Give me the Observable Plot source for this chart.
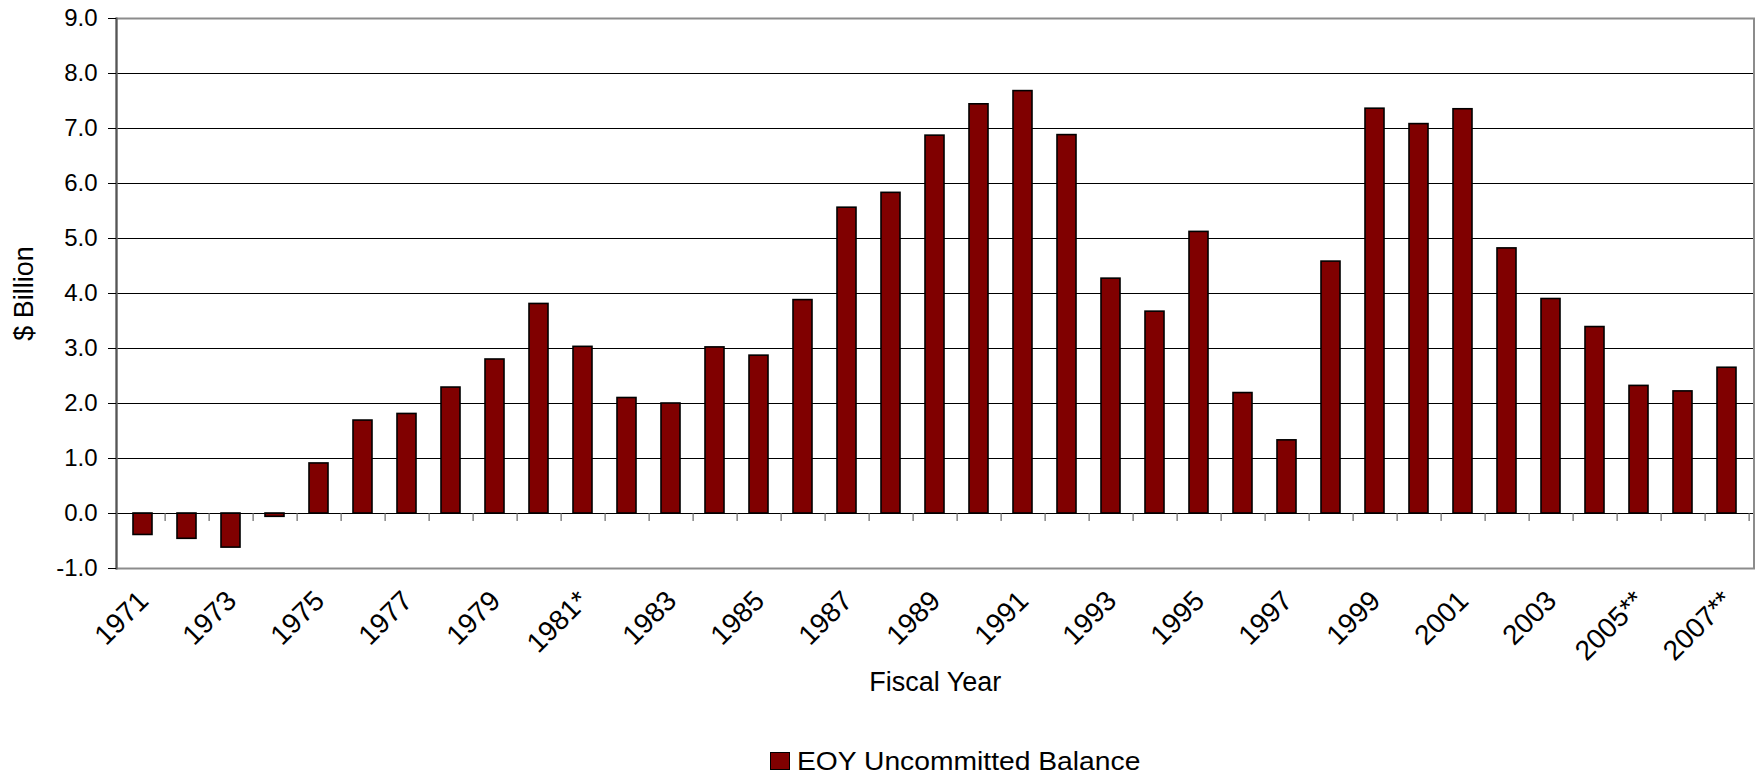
<!DOCTYPE html>
<html>
<head>
<meta charset="utf-8">
<script src="https://cdn.jsdelivr.net/npm/d3@7"></script>
<script src="https://cdn.jsdelivr.net/npm/@observablehq/plot@0.6"></script>
<style>
  html, body { margin: 0; padding: 0; background: #fff; }
  body { width: 1756px; height: 775px; overflow: hidden; font-family: "Liberation Sans", Arial, sans-serif; }
  #chart { height: 730px; }
  #legend { position: relative; height: 45px; color: #000; }
  #legend .sw { position: absolute; left: 770px; top: 22px; width: 18px; height: 16px; background: #800000; border: 1px solid #000; }
  #legend .lbl { position: absolute; left: 797px; top: 18.7px; font-size: 25px; line-height: 25px; white-space: nowrap; transform: scaleX(1.13); transform-origin: left center; }
</style>
</head>
<body>
<div id="chart"></div>
<div id="legend"><span class="sw"></span><span class="lbl" id="legendLabel"></span></div>
<script>
const years = [1971,1972,1973,1974,1975,1976,1977,1978,1979,1980,1981,1982,1983,1984,1985,1986,1987,1988,1989,1990,1991,1992,1993,1994,1995,1996,1997,1998,1999,2000,2001,2002,2003,2004,2005,2006,2007];
const balance = [-0.39,-0.46,-0.62,-0.06,0.91,1.69,1.81,2.29,2.80,3.81,3.03,2.10,2.00,3.02,2.87,3.88,5.56,5.83,6.87,7.44,7.68,6.88,4.27,3.67,5.12,2.19,1.33,4.58,7.36,7.08,7.35,4.82,3.90,3.39,2.32,2.22,2.65];
const tickYears = [1971,1973,1975,1977,1979,1981,1983,1985,1987,1989,1991,1993,1995,1997,1999,2001,2003,2005,2007];
const tickLabels = ["1971","1973","1975","1977","1979","1981*","1983","1985","1987","1989","1991","1993","1995","1997","1999","2001","2003","2005**","2007**"];
const yTicks = [-1,0,1,2,3,4,5,6,7,8,9];
const gridValues = [1,2,3,4,5,6,7,8];
const seriesName = "EOY Uncommitted Balance";
const xTitle = "Fiscal Year";
const yTitle = "$ Billion";

const data = years.map((y, i) => ({year: y, value: balance[i]}));
const labelOf = new Map(tickYears.map((y, i) => [y, tickLabels[i]]));

const W = 1756, H = 730, mL = 116, mR = 2.5, mT = 18, mB = 162;
const step = (W - mL - mR) / years.length;

const chart = Plot.plot({
  width: W, height: H,
  marginLeft: mL, marginRight: mR, marginTop: mT, marginBottom: mB,
  style: {fontFamily: '"Liberation Sans", Arial, sans-serif', fontSize: "24px", color: "#000", background: "#fff"},
  x: {type: "band", domain: years, paddingInner: 0.57, paddingOuter: 0.285},
  y: {domain: [-1, 9]},
  marks: [
    Plot.ruleY(gridValues, {stroke: "#000", strokeWidth: 1}),
    Plot.barY(data, {x: "year", y: "value", fill: "#800000", stroke: "#000", strokeWidth: 1.6}),
    Plot.ruleY([0], {stroke: "#000", strokeWidth: 1.2}),
    Plot.ruleX(years, {x: d => d, y1: 0, y2: 0, insetBottom: -8, dx: step / 2, stroke: "#666", strokeWidth: 1.2}),
    Plot.frame({stroke: "#8c8c8c", strokeWidth: 2}),
    Plot.frame({anchor: "left", stroke: "#555", strokeWidth: 2}),
    Plot.axisY({ticks: yTicks, tickFormat: d => d.toFixed(1), tickSize: 8, tickPadding: 11, fontSize: 24, label: null, stroke: "#000"}),
    Plot.axisX({ticks: tickYears, tickFormat: d => labelOf.get(d), tickRotate: -45, textAnchor: "end", lineAnchor: "top", tickSize: 0, tickPadding: 20, dx: -7, fontSize: 28, label: null}),
    Plot.text([yTitle], {text: d => d, frameAnchor: "left", textAnchor: "middle", lineAnchor: "middle", rotate: -90, dx: -92, fontSize: 27}),
    Plot.text([xTitle], {text: d => d, frameAnchor: "bottom", textAnchor: "middle", lineAnchor: "middle", dy: 114, fontSize: 27})
  ]
});
document.getElementById("chart").appendChild(chart);
document.getElementById("legendLabel").textContent = seriesName;
</script>
</body>
</html>
